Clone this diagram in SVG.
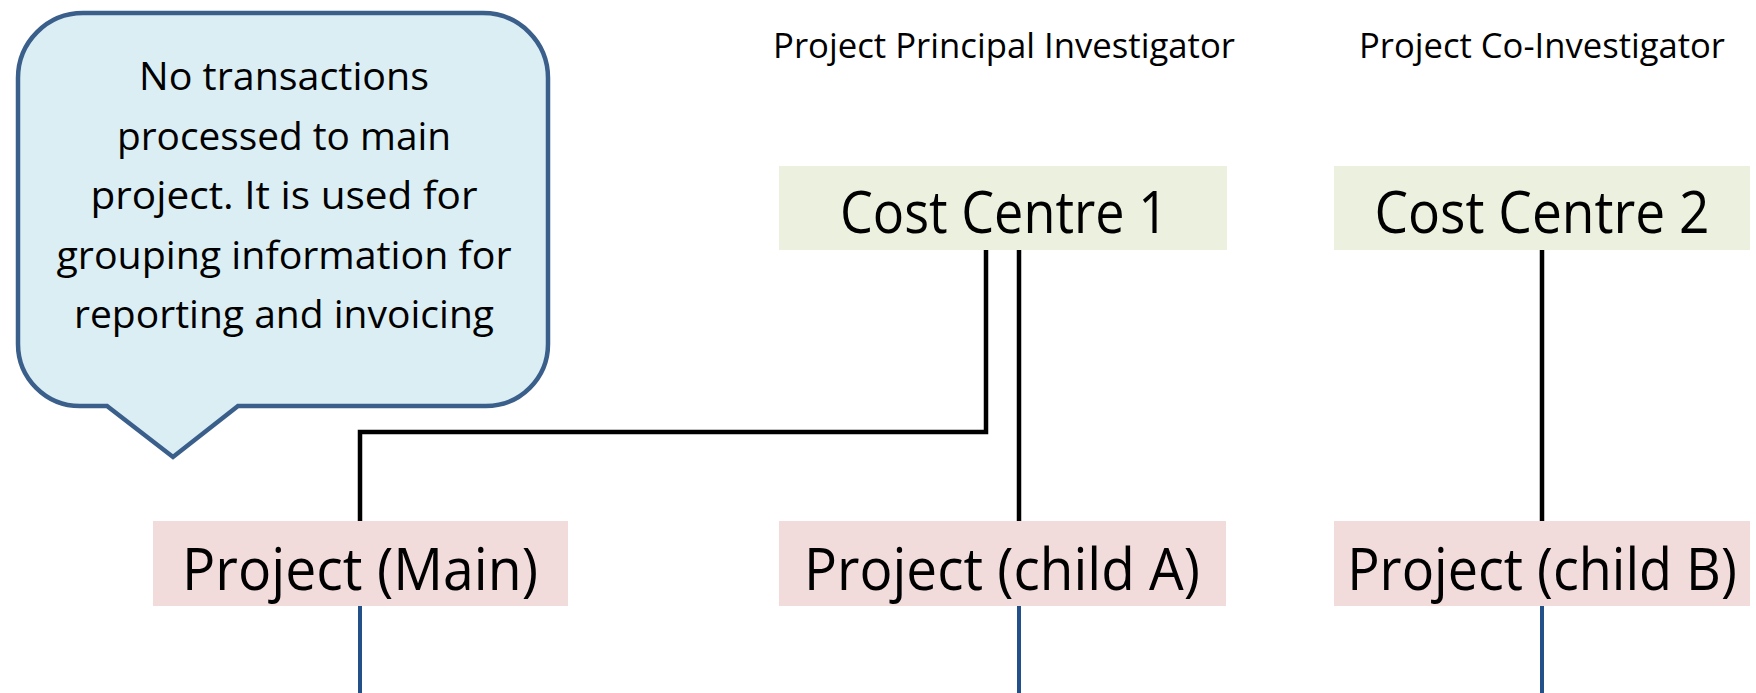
<svg xmlns="http://www.w3.org/2000/svg" width="1756" height="693" viewBox="0 0 1756 693">
  <style>
    .txt { font-family: "Open Sans", "Liberation Sans", sans-serif; fill: #000; text-anchor: middle; }
    .callout-txt { font-size: 38px; }
    .title { font-size: 34px; }
    .big { font-size: 58px; }
    .cc { fill: #EBF1DE; }
    .proj { fill: #F2DCDB; }
    .blk { stroke: #000; stroke-width: 4.5; fill: none; }
    .blu { stroke: #24508A; stroke-width: 4; fill: none; }
  </style>
  <rect width="1756" height="693" fill="#ffffff"/>

  <g id="callout">
    <path d="M83,13 H483 A65,65 0 0 1 548,78 V344 A62,62 0 0 1 486,406 H238 L173,457 L107,406 H80 A62,62 0 0 1 18,344 V78 A65,65 0 0 1 83,13 Z" fill="#DBEEF4" stroke="#3A5F8B" stroke-width="4.5" stroke-linejoin="miter"/>
    <text class="txt callout-txt" x="284" y="90" textLength="290" lengthAdjust="spacingAndGlyphs">No transactions</text>
    <text class="txt callout-txt" x="284" y="150" textLength="334" lengthAdjust="spacingAndGlyphs">processed to main</text>
    <text class="txt callout-txt" x="284" y="209" textLength="387" lengthAdjust="spacingAndGlyphs">project.  It is used for</text>
    <text class="txt callout-txt" x="284" y="269" textLength="455" lengthAdjust="spacingAndGlyphs">grouping information for</text>
    <text class="txt callout-txt" x="284" y="328" textLength="420" lengthAdjust="spacingAndGlyphs">reporting and invoicing</text>
  </g>

  <g id="title-pi">
    <text class="txt title" x="1004" y="58" textLength="462" lengthAdjust="spacingAndGlyphs">Project Principal Investigator</text>
  </g>
  <g id="title-coi">
    <text class="txt title" x="1542" y="58" textLength="366" lengthAdjust="spacingAndGlyphs">Project Co-Investigator</text>
  </g>

  <g id="connectors">
    <polyline class="blk" points="986,250 986,432 360,432 360,521"/>
    <line class="blk" x1="1019" y1="250" x2="1019" y2="521"/>
    <line class="blk" x1="1542" y1="250" x2="1542" y2="521"/>
    <line class="blu" x1="360" y1="606" x2="360" y2="693"/>
    <line class="blu" x1="1019" y1="606" x2="1019" y2="693"/>
    <line class="blu" x1="1542" y1="606" x2="1542" y2="693"/>
  </g>

  <g id="cost-centre-1">
    <rect class="cc" x="779" y="166" width="448" height="84"/>
    <text class="txt big" x="1004" y="233" textLength="328" lengthAdjust="spacingAndGlyphs">Cost Centre 1</text>
  </g>
  <g id="cost-centre-2">
    <rect class="cc" x="1334" y="166" width="416" height="84"/>
    <text class="txt big" x="1542" y="233" textLength="335" lengthAdjust="spacingAndGlyphs">Cost Centre 2</text>
  </g>

  <g id="project-main">
    <rect class="proj" x="153" y="521" width="415" height="85"/>
    <text class="txt big" x="360" y="590" textLength="356" lengthAdjust="spacingAndGlyphs">Project (Main)</text>
  </g>
  <g id="project-child-a">
    <rect class="proj" x="779" y="521" width="447" height="85"/>
    <text class="txt big" x="1002" y="590" textLength="396" lengthAdjust="spacingAndGlyphs">Project (child A)</text>
  </g>
  <g id="project-child-b">
    <rect class="proj" x="1334" y="521" width="416" height="85"/>
    <text class="txt big" transform="translate(1542,590) scale(0.93,1)" x="0" y="0">Project (child B)</text>
  </g>
</svg>
